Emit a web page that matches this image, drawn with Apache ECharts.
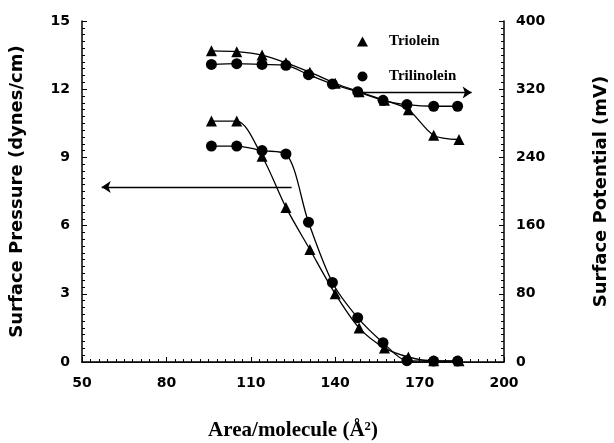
<!DOCTYPE html>
<html>
<head>
<meta charset="utf-8">
<script src="https://cdn.jsdelivr.net/npm/echarts@6/dist/echarts.min.js"></script>
<style>
html,body{margin:0;padding:0;background:#fff;}
#main{width:614px;height:443px;}
</style>
</head>
<body>
<div id="main"></div>
<script>
// area per molecule (Å²), shared by both lipids
var areaTriolein = [96, 105, 114, 122.5, 131, 140, 148.5, 157.5, 166, 175, 184];
var areaTrilinolein = [96, 105, 114, 122.5, 130.5, 139, 148, 157, 165.5, 175, 183.5];
// surface pressure (dynes/cm)
var pressTriolein = [10.6, 10.6, 9.05, 6.8, 4.95, 3.0, 1.5, 0.62, 0.22, 0.05, 0.05];
var pressTrilinolein = [9.5, 9.5, 9.3, 9.15, 6.15, 3.5, 1.95, 0.85, 0.06, 0.04, 0.04];
// surface potential (mV)
var potTriolein = [365, 364, 360, 351, 340, 327, 317, 307, 296, 266, 261];
var potTrilinolein = [349, 350, 349, 348, 337, 326, 317, 307, 302, 300, 300];
// arrows pointing at the axis each curve set belongs to (left-axis units)
var arrowLeft = [[124.5, 7.7], [57, 7.7]];
var arrowRight = [[147.5, 11.85], [188.5, 11.85]];

function pairs(xs, ys) {
    var out = [];
    for (var i = 0; i < xs.length; i++) {
        out.push([xs[i], ys[i]]);
    }
    return out;
}

var lineSty = {color: '#000', width: 1.3};
var tickFont = {margin: 12, color: '#000', fontFamily: 'DejaVu Sans', fontWeight: 'bold', fontSize: 14};

var chart = echarts.init(document.getElementById('main'));
var option = {
    backgroundColor: '#fff',
    animation: false,
    grid: {left: 82, top: 21, width: 422, height: 341, containLabel: false, outerBoundsMode: 'none'},
    legend: {
        data: [{name: 'Triolein', icon: 'triangle'}, {name: 'Trilinolein', icon: 'circle'}],
        orient: 'vertical',
        left: 352,
        top: 29,
        itemGap: 20,
        itemWidth: 11,
        itemHeight: 10,
        textStyle: {color: '#000', fontFamily: 'Liberation Serif', fontWeight: 'bold', fontSize: 15, padding: [0, 0, 0, 16]}
    },
    xAxis: [{
        type: 'value',
        min: 50, max: 200, interval: 30,
        name: 'Area/molecule (Å²)',
        nameLocation: 'middle',
        nameGap: 58,
        nameTextStyle: {color: '#000', fontFamily: 'Liberation Serif', fontWeight: 'bold', fontSize: 21},
        axisLine: {lineStyle: {color: '#000', width: 1.5}},
        axisTick: {inside: true, length: 5, lineStyle: {color: '#000'}},
        minorTick: {show: true, splitNumber: 10, length: 3, lineStyle: {color: '#000'}},
        axisLabel: {margin: 14, color: '#000', fontFamily: 'DejaVu Sans', fontWeight: 'bold', fontSize: 14},
        splitLine: {show: false}
    }, {
        type: 'value',
        position: 'top',
        min: 50, max: 200, interval: 30,
        axisLine: {show: true, lineStyle: {color: '#000', width: 1, type: 'dotted'}},
        axisTick: {show: false},
        axisLabel: {show: false},
        splitLine: {show: false}
    }],
    yAxis: [{
        type: 'value',
        min: 0, max: 15, interval: 3,
        name: 'Surface Pressure (dynes/cm)',
        nameLocation: 'middle',
        nameGap: 56,
        nameTextStyle: {color: '#000', fontFamily: 'DejaVu Sans', fontWeight: 'bold', fontSize: 18},
        axisLine: {show: true, lineStyle: {color: '#000', width: 1.5}},
        axisTick: {inside: true, length: 5, lineStyle: {color: '#000'}},
        minorTick: {show: true, splitNumber: 10, length: 3, lineStyle: {color: '#000'}},
        axisLabel: tickFont,
        splitLine: {show: false}
    }, {
        type: 'value',
        min: 0, max: 400, interval: 80,
        position: 'right',
        name: 'Surface Potential (mV)',
        nameLocation: 'middle',
        nameGap: 88,
        nameRotate: 90,
        nameTextStyle: {color: '#000', fontFamily: 'DejaVu Sans', fontWeight: 'bold', fontSize: 18},
        axisLine: {show: true, lineStyle: {color: '#000', width: 1.5}},
        axisTick: {inside: true, length: 5, lineStyle: {color: '#000'}},
        minorTick: {show: true, splitNumber: 10, length: 3, lineStyle: {color: '#000'}},
        axisLabel: tickFont,
        splitLine: {show: false}
    }],
    series: [
        {
            name: 'Triolein', type: 'line', smooth: 0.3,
            data: pairs(areaTriolein, pressTriolein),
            symbol: 'triangle', symbolSize: 11,
            itemStyle: {color: '#000'}, lineStyle: lineSty,
            markLine: {
                silent: true,
                symbol: ['none', 'arrow'],
                symbolSize: 9,
                label: {show: false},
                lineStyle: {color: '#000', width: 1.3, type: 'solid'},
                data: [
                    [{coord: arrowLeft[0]}, {coord: arrowLeft[1]}],
                    [{coord: arrowRight[0]}, {coord: arrowRight[1]}]
                ]
            }
        },
        {
            name: 'Trilinolein', type: 'line', smooth: 0.3,
            data: pairs(areaTrilinolein, pressTrilinolein),
            symbol: 'circle', symbolSize: 11,
            itemStyle: {color: '#000'}, lineStyle: lineSty
        },
        {
            name: 'Triolein', type: 'line', smooth: 0.3, yAxisIndex: 1,
            data: pairs(areaTriolein, potTriolein),
            symbol: 'triangle', symbolSize: 11,
            itemStyle: {color: '#000'}, lineStyle: lineSty
        },
        {
            name: 'Trilinolein', type: 'line', smooth: 0.3, yAxisIndex: 1,
            data: pairs(areaTrilinolein, potTrilinolein),
            symbol: 'circle', symbolSize: 11,
            itemStyle: {color: '#000'}, lineStyle: lineSty
        }
    ]
};
chart.setOption(option);
</script>
</body>
</html>
